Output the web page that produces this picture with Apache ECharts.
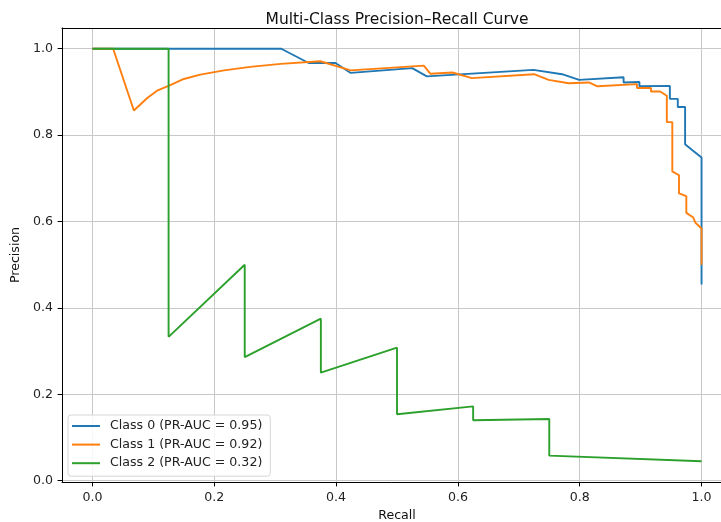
<!DOCTYPE html>
<html>
<head>
<meta charset="utf-8">
<script src="https://cdn.jsdelivr.net/npm/echarts@6/dist/echarts.min.js"></script>
<style>html,body{margin:0;padding:0;background:#fff}#c{width:721px;height:522px}</style>
</head>
<body>
<div id="c"></div>
<script>
const seriesNames = ['Class 0 (PR-AUC = 0.95)', 'Class 1 (PR-AUC = 0.92)', 'Class 2 (PR-AUC = 0.32)'];
const class0Recall = [0, 0.310, 0.355, 0.399, 0.424, 0.525, 0.549, 0.724, 0.771, 0.799, 0.872, 0.872, 0.898, 0.898, 0.948, 0.948, 0.961, 0.961, 0.973, 0.973, 0.985, 1.0, 1.0];
const class0Precision = [1.0, 1.0, 0.967, 0.967, 0.944, 0.955, 0.936, 0.951, 0.941, 0.928, 0.934, 0.922, 0.923, 0.913, 0.914, 0.884, 0.884, 0.865, 0.865, 0.779, 0.765, 0.748, 0.454];
const class1Recall = [0, 0.034, 0.068, 0.090, 0.106, 0.125, 0.150, 0.177, 0.216, 0.259, 0.309, 0.374, 0.424, 0.544, 0.555, 0.591, 0.623, 0.725, 0.749, 0.782, 0.815, 0.829, 0.894, 0.894, 0.917, 0.917, 0.932, 0.943, 0.943, 0.952, 0.952, 0.963, 0.963, 0.975, 0.975, 0.986, 0.990, 1.0, 1.0];
const class1Precision = [1.0, 1.0, 0.857, 0.886, 0.903, 0.914, 0.930, 0.940, 0.950, 0.958, 0.965, 0.971, 0.950, 0.961, 0.942, 0.945, 0.932, 0.941, 0.928, 0.920, 0.922, 0.913, 0.918, 0.909, 0.909, 0.901, 0.901, 0.891, 0.830, 0.830, 0.716, 0.707, 0.665, 0.659, 0.620, 0.610, 0.597, 0.584, 0.500];
const class2Recall = [0, 0.125, 0.125, 0.25, 0.25, 0.375, 0.375, 0.5, 0.5, 0.625, 0.625, 0.75, 0.75, 1.0];
const class2Precision = [1.0, 1.0, 0.333, 0.5, 0.286, 0.375, 0.25, 0.308, 0.154, 0.172, 0.140, 0.143, 0.058, 0.045];
const colors = ['#1f77b4', '#ff7f0e', '#2ca02c'];

const recalls = [class0Recall, class1Recall, class2Recall];
const precisions = [class0Precision, class1Precision, class2Precision];

const FONT = 'DejaVu Sans';
const chart = echarts.init(document.getElementById('c'), null, {renderer: 'canvas'});
const series = seriesNames.map((name, i) => ({
  name: name,
  type: 'line',
  data: recalls[i].map((r, j) => [r, precisions[i][j]]),
  showSymbol: false,
  symbol: 'none',
  lineStyle: {width: 1.9, color: colors[i]},
  itemStyle: {color: colors[i]},
  animation: false,
  z: 3 + i
}));

chart.setOption({
  animation: false,
  backgroundColor: '#fff',
  title: {
    text: 'Multi-Class Precision\u2013Recall Curve',
    left: 392, textAlign: 'center', top: 7,
    textStyle: {fontFamily: FONT, fontSize: 15.5, fontWeight: 'normal', color: '#111'}
  },
  grid: {left: 62, right: -11, top: 28, bottom: 40, containLabel: false, outerBoundsMode: 'none'},
  legend: {
    orient: 'vertical', left: 68, top: 415,
    data: seriesNames,
    icon: 'rect', itemWidth: 28, itemHeight: 2, itemGap: 2.6,
    padding: [3, 8, 5, 4],
    backgroundColor: 'rgba(255,255,255,0.85)',
    borderColor: '#d6d6d6', borderWidth: 1, borderRadius: 3,
    textStyle: {fontFamily: FONT, fontSize: 12.6, color: '#222', lineHeight: 16, padding: [0, 0, 0, 5]}
  },
  xAxis: [{
    type: 'value', min: -0.05, max: 1.05,
    name: 'Recall', nameLocation: 'middle', nameGap: 24,
    nameTextStyle: {fontFamily: FONT, fontSize: 12.6, color: '#111'},
    axisLine: {show: true, onZero: false, lineStyle: {color: '#000', width: 1}},
    axisTick: {show: true, length: 4.4, lineStyle: {color: '#000', width: 1}},
    axisLabel: {fontFamily: FONT, fontSize: 12.6, color: '#222', margin: 9, showMinLabel: false, showMaxLabel: false,
      formatter: v => v.toFixed(1)},
    splitLine: {show: true, lineStyle: {color: '#c8c8c8', width: 1}}
  }, {
    type: 'value', position: 'top', min: -0.05, max: 1.05,
    axisLine: {show: true, onZero: false, lineStyle: {color: '#000', width: 1}},
    axisTick: {show: false}, axisLabel: {show: false}, splitLine: {show: false}
  }],
  yAxis: [{
    type: 'value', min: -0.003, max: 1.048,
    name: 'Precision', nameLocation: 'middle', nameGap: 34,
    nameTextStyle: {fontFamily: FONT, fontSize: 12.6, color: '#111'},
    axisLine: {show: true, onZero: false, lineStyle: {color: '#000', width: 1}},
    axisTick: {show: true, length: 4.4, lineStyle: {color: '#000', width: 1}},
    axisLabel: {fontFamily: FONT, fontSize: 12.6, color: '#222', margin: 9, showMinLabel: false, showMaxLabel: false,
      formatter: v => v.toFixed(1)},
    splitLine: {show: true, lineStyle: {color: '#c8c8c8', width: 1}}
  }],
  series: series
});
</script>
</body>
</html>
